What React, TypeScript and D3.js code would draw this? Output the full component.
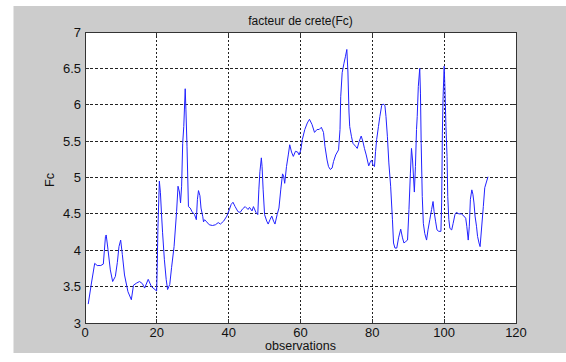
import React from "react";
import * as d3 from "d3";

const xValues: number[] = [
  0.9, 1.8, 2.7, 3.4, 4.4, 5.1, 5.7, 5.9, 6.4, 7.05, 7.7, 8.45, 9.0, 9.46, 9.93, 10.4, 11.0, 11.96, 12.9, 13.5,
  14.4, 15.2, 16.0, 16.6, 17.6, 18.5, 19.95, 20.1, 20.3, 20.7, 21.0, 21.3, 21.6, 22.1, 22.6, 23.0, 23.6, 24.1, 24.8, 25.5,
  25.9, 26.3, 26.6, 26.9, 27.2, 27.5, 27.9, 28.1, 28.4, 28.8, 29.3, 29.8, 30.5, 31.0, 31.3, 31.6, 32.0, 32.3, 32.8, 33.0,
  33.3, 33.7, 34.6, 35.5, 36.3, 37.1, 37.7, 38.6, 39.5, 40.2, 40.7, 41.2, 41.8, 42.6, 43.2, 43.9, 44.6, 45.4, 45.8, 46.5,
  46.9, 47.6, 48.1, 48.4, 48.7, 49.1, 49.3, 49.6, 50.0, 50.6, 51.0, 51.5, 52.0, 52.5, 52.9, 53.5, 54.0, 54.5, 55.0, 55.3,
  55.6, 56.1, 56.6, 57.0, 57.5, 58.0, 58.6, 59.2, 59.6, 60.1, 60.5, 61.2, 61.9, 62.5, 63.2, 63.9, 64.6, 65.2, 65.8, 66.4,
  66.8, 67.4, 67.8, 68.3, 68.8, 69.2, 69.8, 70.6, 71.0, 71.2, 71.6, 72.1, 72.5, 72.9, 73.2, 73.5, 73.7, 74.2, 74.6, 75.3,
  75.8, 76.3, 76.9, 77.4, 77.8, 78.3, 78.8, 79.0, 79.4, 79.8, 80.2, 80.6, 80.9, 81.2, 81.7, 82.1, 82.6, 83.0, 83.5, 83.8,
  84.2, 84.6, 85.1, 85.6, 85.9, 86.3, 86.8, 87.3, 87.9, 88.4, 88.8, 89.3, 89.8, 90.2, 90.6, 90.9, 91.2, 91.7, 92.0, 92.3,
  92.5, 92.8, 93.2, 93.4, 93.6, 93.9, 94.2, 94.6, 95.1, 95.5, 96.0, 96.5, 96.9, 97.2, 97.6, 98.0, 98.5, 99.1, 99.3, 99.5,
  99.7, 100.0, 100.2, 100.5, 100.8, 101.0, 101.3, 101.6, 102.1, 102.5, 103.0, 103.4, 104.1, 104.8, 105.5, 106.0, 106.3, 106.7, 107.0, 107.3,
  107.7, 108.0, 108.3, 108.6, 109.0, 109.3, 109.7, 110.0, 110.9, 111.3, 112.2,
];

const fcValues: number[] = [
  3.26, 3.55, 3.82, 3.79, 3.79, 3.81, 4.19, 4.21, 4.01, 3.73, 3.57, 3.64, 3.83, 4.05, 4.14, 3.94, 3.66, 3.43, 3.32, 3.52,
  3.55, 3.57, 3.54, 3.48, 3.6, 3.5, 3.44, 3.75, 4.3, 4.95, 4.79, 4.5, 4.24, 3.87, 3.6, 3.46, 3.53, 3.76, 4.05, 4.53,
  4.88, 4.8, 4.65, 4.88, 5.47, 5.7, 6.22, 5.93, 5.43, 4.6, 4.58, 4.53, 4.49, 4.42, 4.7, 4.82, 4.75, 4.58, 4.46, 4.39,
  4.42, 4.4, 4.35, 4.34, 4.35, 4.38, 4.36, 4.4, 4.47, 4.56, 4.63, 4.66, 4.6, 4.53, 4.52, 4.57, 4.6, 4.56, 4.59, 4.54,
  4.6, 4.52, 4.49, 4.83, 5.08, 5.27, 5.15, 4.83, 4.49, 4.4, 4.36, 4.42, 4.47, 4.4, 4.36, 4.49, 4.58, 4.83, 5.05, 5.02,
  4.92, 5.15, 5.31, 5.45, 5.35, 5.29, 5.36, 5.35, 5.31, 5.38, 5.52, 5.66, 5.75, 5.8, 5.73, 5.62, 5.66, 5.66, 5.69, 5.62,
  5.43, 5.24, 5.15, 5.11, 5.13, 5.22, 5.31, 5.38, 5.66, 6.11, 6.44, 6.57, 6.66, 6.76, 6.45, 5.9, 5.7, 5.56, 5.47, 5.43,
  5.4, 5.49, 5.57, 5.49, 5.4, 5.31, 5.2, 5.16, 5.21, 5.24, 5.17, 5.15, 5.36, 5.52, 5.7, 5.84, 5.99, 6.01, 5.99, 5.84,
  5.56, 5.2, 4.88, 4.42, 4.1, 4.03, 4.03, 4.17, 4.29, 4.17, 4.1, 4.12, 4.14, 4.56, 5.06, 5.4, 5.24, 4.8, 5.15, 5.66,
  5.84, 6.25, 6.5, 6.16, 5.47, 4.74, 4.37, 4.23, 4.14, 4.28, 4.42, 4.56, 4.67, 4.53, 4.4, 4.28, 4.26, 4.26, 4.65, 5.61,
  6.11, 6.53, 6.25, 5.7, 5.29, 4.74, 4.42, 4.3, 4.28, 4.37, 4.49, 4.52, 4.5, 4.5, 4.47, 4.44, 4.33, 4.14, 4.33, 4.7,
  4.83, 4.77, 4.65, 4.47, 4.33, 4.19, 4.1, 4.05, 4.6, 4.86, 5.01,
];

const xTicks: number[] = [0, 20, 40, 60, 80, 100, 120];
const yTicks: number[] = [3, 3.5, 4, 4.5, 5, 5.5, 6, 6.5, 7];

const titleText = "facteur de crete(Fc)";
const xLabelText = "observations";
const yLabelText = "Fc";

export default function App() {
  const W = 566;
  const H = 362;
  const left = 85;
  const right = 516;
  const top = 32;
  const bottom = 323;
  const x = d3.scaleLinear().domain([0, 120]).range([left, right]);
  const y = d3.scaleLinear().domain([3, 7]).range([bottom, top]);
  const pts: [number, number][] = xValues.map((v, i) => [v, fcValues[i]]);
  const line = d3
    .line<[number, number]>()
    .x((d) => x(d[0]))
    .y((d) => y(d[1]));
  const font = "'Liberation Sans', Arial, Helvetica, sans-serif";
  const tl = 4;
  return (
    <svg
      width={W}
      height={H}
      style={{ position: "absolute", left: 0, top: 0, background: "#ffffff" }}
      fontFamily={font}
    >
      <rect x={13.5} y={6} width={W - 13.5} height={347} fill="#cccccc" />
      <rect x={left} y={top} width={right - left} height={bottom - top} fill="#ffffff" />
      {xTicks
        .filter((t) => t > 0 && t < 120)
        .map((t) => (
          <line
            key={"gx" + t}
            x1={x(t)}
            x2={x(t)}
            y1={top}
            y2={bottom}
            stroke="#222"
            strokeWidth={1}
            strokeDasharray="2,2"
            shapeRendering="crispEdges"
          />
        ))}
      {yTicks
        .filter((t) => t > 3 && t < 7)
        .map((t) => (
          <line
            key={"gy" + t}
            x1={left}
            x2={right}
            y1={y(t)}
            y2={y(t)}
            stroke="#222"
            strokeWidth={1}
            strokeDasharray="3,2"
            shapeRendering="crispEdges"
          />
        ))}
      <path d={line(pts) || ""} fill="none" stroke="#2222ff" strokeWidth={1} />
      <rect
        x={left}
        y={top}
        width={right - left}
        height={bottom - top}
        fill="none"
        stroke="#333"
        strokeWidth={1}
        shapeRendering="crispEdges"
      />
      {xTicks.map((t) => (
        <g key={"tx" + t}>
          <line x1={x(t)} x2={x(t)} y1={bottom} y2={bottom - tl} stroke="#333" shapeRendering="crispEdges" />
          <line x1={x(t)} x2={x(t)} y1={top} y2={top + tl} stroke="#333" shapeRendering="crispEdges" />
          <text x={x(t)} y={bottom + 14} fontSize={13} textAnchor="middle" fill="#111">
            {t}
          </text>
        </g>
      ))}
      {yTicks.map((t) => (
        <g key={"ty" + t}>
          <line x1={left} x2={left + tl} y1={y(t)} y2={y(t)} stroke="#333" shapeRendering="crispEdges" />
          <line x1={right} x2={right - tl} y1={y(t)} y2={y(t)} stroke="#333" shapeRendering="crispEdges" />
          <text x={left - 4} y={y(t) + 4.5} fontSize={13} textAnchor="end" fill="#111">
            {String(t)}
          </text>
        </g>
      ))}
      <text x={(left + right) / 2} y={25} fontSize={12} textAnchor="middle" fill="#111">
        {titleText}
      </text>
      <text x={(left + right) / 2} y={350} fontSize={12.5} textAnchor="middle" fill="#111">
        {xLabelText}
      </text>
      <text
        transform={`translate(54, 180) rotate(-90)`}
        fontSize={12.5}
        textAnchor="middle"
        fill="#111"
      >
        {yLabelText}
      </text>
    </svg>
  );
}
